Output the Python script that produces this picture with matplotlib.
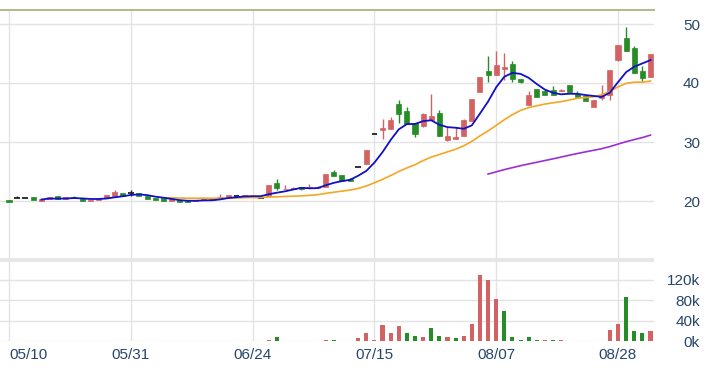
import numpy as np
import pandas as pd
import matplotlib
matplotlib.use("Agg")
import matplotlib.pyplot as plt
from matplotlib.patches import Rectangle

# ---------------- data ----------------
dates = pd.bdate_range("2024-05-10", "2024-09-03")
holidays = pd.to_datetime(["2024-06-10", "2024-07-24", "2024-07-25"])
dates = [d for d in dates if d not in holidays]
labels_dates = [d.strftime("%m/%d") for d in dates]

opens = [20.2, 20.5, 20.5, 20.7, 20.0, 20.3, 20.9, 20.4, 20.7, 20.5,
         20.0, 20.2, 20.5, 20.9, 21.4, 21.3, 21.3, 20.9, 20.55, 20.6,
         20.0, 20.25, 20.1, 20.0, 20.1, 20.2, 20.5, 20.7, 20.9, 20.75,
         20.85, 20.55, 20.9, 23.0, 22.0, 22.0, 22.3, 22.2, 22.25, 22.4,
         25.0, 24.4, 23.8, 25.8, 26.2, 31.3, 32.0, 32.2, 36.5, 35.3,
         33.3, 32.7, 33.8, 35.0, 30.3, 30.5, 31.1, 33.5, 38.4, 42.0,
         41.3, 42.4, 43.3, 40.7, 36.2, 39.0, 38.7, 38.8, 38.6, 39.6,
         38.2, 37.8, 36.0, 37.5, 38.0, 43.9, 47.6, 46.0, 42.0, 41.1]
highs = [20.2, 20.8, 20.5, 20.7, 20.3, 20.7, 20.9, 20.6, 20.8, 20.5,
         20.2, 20.4, 21.0, 21.8, 21.4, 21.9, 21.4, 20.9, 20.55, 20.6,
         20.3, 20.25, 20.1, 20.2, 20.3, 20.4, 21.2, 21.0, 21.1, 21.0,
         20.85, 20.55, 22.7, 23.7, 22.7, 22.4, 22.3, 22.9, 22.5, 24.5,
         25.2, 24.4, 23.85, 25.8, 28.6, 31.3, 33.85, 34.3, 37.1, 36.0,
         33.3, 35.0, 38.1, 35.4, 32.5, 32.5, 33.85, 37.3, 41.0, 44.6,
         45.4, 45.1, 43.8, 40.7, 38.7, 39.0, 39.0, 39.5, 39.0, 39.6,
         38.6, 37.9, 37.1, 39.6, 42.2, 46.4, 49.5, 46.2, 42.9, 45.0]
lows = [19.8, 20.5, 20.5, 20.1, 20.0, 20.3, 20.4, 20.4, 20.5, 20.0,
        20.0, 20.2, 20.5, 20.9, 20.9, 20.9, 20.9, 20.4, 20.2, 20.0,
        20.0, 19.85, 19.85, 20.0, 20.1, 20.2, 20.5, 20.7, 20.9, 20.75,
        20.65, 20.55, 20.9, 21.9, 22.0, 22.0, 21.9, 22.2, 22.2, 22.4,
        24.3, 23.4, 23.35, 25.8, 26.2, 31.3, 30.5, 32.2, 33.3, 33.0,
        30.8, 32.5, 33.7, 31.0, 30.2, 30.5, 31.1, 33.5, 38.4, 40.2,
        41.3, 40.5, 40.2, 40.05, 36.2, 37.7, 38.0, 37.9, 38.6, 38.5,
        37.6, 36.9, 36.0, 37.1, 37.2, 43.7, 45.4, 41.7, 40.4, 41.1]
closes = [19.9, 20.5, 20.5, 20.1, 20.3, 20.7, 20.4, 20.6, 20.5, 20.0,
          20.2, 20.4, 21.0, 21.5, 20.9, 21.3, 20.9, 20.4, 20.2, 20.0,
          20.3, 19.85, 19.85, 20.2, 20.3, 20.4, 20.6, 21.0, 20.9, 20.95,
          20.65, 20.55, 22.7, 22.2, 22.1, 22.2, 21.95, 22.3, 22.35, 24.5,
          24.3, 23.4, 23.4, 25.8, 28.6, 31.3, 32.3, 33.7, 34.8, 33.1,
          31.4, 34.7, 34.4, 31.0, 31.1, 30.9, 33.8, 37.3, 41.0, 41.3,
          43.0, 42.7, 40.6, 40.1, 38.0, 37.7, 38.0, 37.9, 38.8, 38.5,
          37.6, 37.0, 37.1, 38.0, 42.2, 46.4, 45.5, 41.7, 40.8, 45.0]
# volume in thousands of shares
volumes = [0, 0, 0, 0, 0, 0, 0, 0, 0, 0,
           0, 0, 0, 0, 0, 0, 0, 0, 0, 0,
           0, 0, 0, 0, 0, 0, 0, 0, 0, 0,
           0, 0, 2.6, 8.5, 0, 0, 0, 0, 0, 2.0,
           2.0, 0, 0, 6.5, 16, 2.6, 31, 16, 30.5, 16,
           11, 8.5, 26, 10.4, 7.8, 5.9, 11, 33, 128.7, 119,
           82, 59, 7.8, 2.6, 7.8, 2.0, 2.0, 2.0, 2.0, 0,
           0, 0, 0, 1.5, 21.5, 33, 86, 20, 17, 21]

price_ticks = [20, 30, 40, 50]
vol_ticks = [0, 40, 80, 120]
vol_tick_labels = ["0k", "40k", "80k", "120k"]
xtick_idx = [0, 15, 30, 45, 60, 75]

# ---------------- style ----------------
W, H = 717, 373
RED = "#d36262"
GREEN = "#268c26"
TXT = "#27466b"
GRID = "#e3e3e3"
plt.rcParams["font.family"] = ["Liberation Sans Narrow", "Liberation Sans", "DejaVu Sans"]

fig = plt.figure(figsize=(W / 100, H / 100), dpi=100)
fig.patch.set_facecolor("white")

def fx(px):
    return px / W

def fy(py):
    return 1 - py / H

ax_l, ax_r = 0, 654
main_top, main_bot = 10, 258
vol_top, vol_bot = 262, 341.3
ax = fig.add_axes([fx(ax_l), fy(main_bot), fx(ax_r - ax_l), (main_bot - main_top) / H])
axv = fig.add_axes([fx(ax_l), fy(vol_bot), fx(ax_r - ax_l), (vol_bot - vol_top) / H], sharex=ax)

# separator band
fig.patches.append(Rectangle((fx(0), fy(262)), fx(654), 4 / H, transform=fig.transFigure,
                             facecolor="#e6e6e6", edgecolor="none"))

n = len(closes)
x = np.arange(n)
o = np.array(opens); h = np.array(highs); l = np.array(lows); c = np.array(closes)

xmin, xmax = -9 / 8.12, (654 - 9) / 8.12
ax.set_xlim(xmin, xmax)
ppx = 5.9
ax.set_ylim(50 - (main_bot - 24) / ppx, 50 + (24 - main_top) / ppx)

for a in (ax, axv):
    a.set_facecolor("none")
    for s in a.spines.values():
        s.set_visible(False)
    for i in xtick_idx:
        a.axvline(i, color=GRID, lw=1, zorder=0)

ax.spines["top"].set_visible(True)
ax.spines["top"].set_color("#b3b889")
ax.spines["top"].set_linewidth(1.4)

for p in price_ticks:
    ax.axhline(p, color=GRID, lw=1, zorder=0)

# candles
cols = np.where(c > o, RED, np.where(c < o, GREEN, "#222222"))
ax.vlines(x, l, h, colors=cols, lw=1, zorder=2)
body_bot = np.minimum(o, c)
body_h = np.abs(c - o)
mask = body_h > 0
ax.bar(x[mask], body_h[mask], bottom=body_bot[mask], width=0.62, color=cols[mask],
       edgecolor=cols[mask], lw=0.5, zorder=3)
dm = ~mask
ax.hlines(c[dm], x[dm] - 0.35, x[dm] + 0.35, colors="#222222", lw=1.3, zorder=3)

# moving averages
cs = pd.Series(closes)
ma5 = cs.rolling(5).mean()
ma20 = cs.rolling(20).mean()
ma60 = cs.rolling(60).mean()
ax.plot(x, ma20, color="#f5a623", lw=1.2, zorder=4)
ax.plot(x, ma60, color="#9b2fd6", lw=1.2, zorder=4)
ax.plot(x, ma5, color="#1010c8", lw=1.3, zorder=5)

# volume
vol = np.array(volumes, dtype=float)
prev = np.r_[c[0], c[:-1]]
vcols = np.where(c > prev, RED, np.where(c < prev, GREEN, "#555555"))
axv.bar(x, vol, width=0.5, color=vcols, zorder=3)
axv.set_ylim(0, (vol_bot - vol_top) / 20.5 * 40)
for v in vol_ticks:
    axv.axhline(v, color=GRID, lw=1, zorder=0)

# ticks
ax.tick_params(axis="x", which="both", bottom=False, labelbottom=False)
ax.yaxis.tick_right()
ax.set_yticks(price_ticks)
ax.set_yticklabels([str(p) for p in price_ticks])
axv.yaxis.tick_right()
axv.set_yticks(vol_ticks)
axv.set_yticklabels(vol_tick_labels)
pad_pt = (700 - ax_r) * 72 / 100
for a in (ax, axv):
    a.tick_params(axis="y", length=0, pad=pad_pt, labelsize=11, labelcolor=TXT)
    for lbl in a.get_yticklabels():
        lbl.set_horizontalalignment("right")

axv.set_xticks(xtick_idx)
axv.set_xticklabels([labels_dates[i] for i in xtick_idx])
axv.tick_params(axis="x", length=0, pad=5, labelsize=11, labelcolor=TXT)
xl = axv.get_xticklabels()
xl[0].set_horizontalalignment("left")

fig.savefig("out.png", dpi=100)
